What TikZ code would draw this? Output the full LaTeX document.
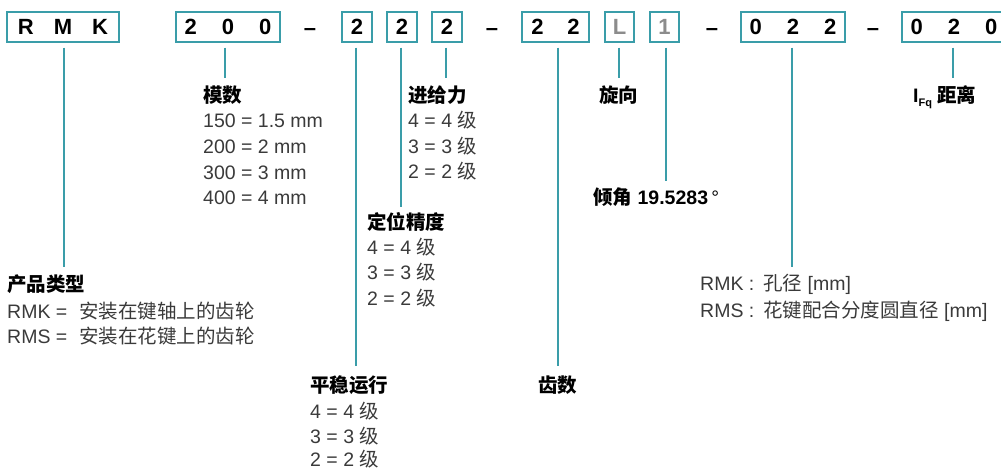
\documentclass[tikz,border=0pt]{standalone}
\usepackage{fontspec}
\setmainfont{Liberation Sans}
\newfontfamily\cjkf{Noto Sans CJK SC}
\newcommand\zh[1]{{\cjkf #1}}
\definecolor{teal1}{HTML}{3A9DA9}
\definecolor{bodygray}{HTML}{3A3A3A}
\definecolor{lgray}{HTML}{8C8C8C}
\begin{document}
\begin{tikzpicture}[x=1pt,y=-1pt,
 cbox/.style={draw=teal1,line width=1.3pt,minimum height=30pt,inner sep=0pt,font=\fontsize{22}{22}\selectfont\bfseries,text=black},
 conn/.style={draw=teal1,line width=1.6pt},
 ttl/.style={anchor=base west,inner sep=0pt,font=\fontsize{19.5}{19.5}\selectfont\bfseries,text=black},
 txt/.style={anchor=base west,inner sep=0pt,font=\fontsize{19.5}{19.5}\selectfont,text=bodygray},
 dsh/.style={anchor=base,inner sep=0pt,font=\fontsize{22}{22}\selectfont\bfseries,text=black}]
\useasboundingbox (0,0) rectangle (1001,471);
\clip (0,0) rectangle (1001,471);

% code boxes
\node[cbox,minimum width=112pt] (b1) at (63,27) {R\hspace{20pt}M\hspace{20pt}K};
\node[cbox,minimum width=104pt] (b2) at (228,27) {2\hspace{25pt}0\hspace{25pt}0};
\node[dsh] (d1) at (310,35) {–};
\node[cbox,minimum width=30pt] (b3) at (357,27) {2};
\node[cbox,minimum width=30pt] (b4) at (402,27) {2};
\node[cbox,minimum width=30pt] (b5) at (447,27) {2};
\node[dsh] (d2) at (492,35) {–};
\node[cbox,minimum width=67pt] (b6) at (555.5,27) {2\hspace{24pt}2};
\node[cbox,minimum width=29pt,text=lgray] (b7) at (619.5,27) {L};
\node[cbox,minimum width=29pt,text=lgray] (b8) at (664.5,27) {1};
\node[dsh] (d3) at (712,35) {–};
\node[cbox,minimum width=104pt] (b9) at (793,27) {0\hspace{25pt}2\hspace{25pt}2};
\node[dsh] (d4) at (873,35) {–};
\node[cbox,minimum width=104pt] (b10) at (954,27) {0\hspace{25pt}2\hspace{25pt}0};

% line end points
\coordinate (e1) at (64,267);
\coordinate (e2) at (225,78);
\coordinate (e3) at (356,366);
\coordinate (e4) at (401,207);
\coordinate (e5) at (446,78);
\coordinate (e6) at (558,366);
\coordinate (e7) at (619,78);
\coordinate (e8) at (666,181);
\coordinate (e9) at (792,267);
\coordinate (e10) at (953,78);

\foreach \i in {1,...,10}{
  \draw[conn] ([yshift=-5pt]b\i.south -| e\i) -- (e\i);
}

% 产品类型
\node[ttl] (t1) at (7,291) {\zh{产品类型}};
\node[txt] (t1a) at (7,318) {\makebox[72pt][l]{RMK =}\zh{安装在键轴上的齿轮}};
\node[txt] (t1b) at (7,343) {\makebox[72pt][l]{RMS =}\zh{安装在花键上的齿轮}};

% 模数
\node[ttl] (t2) at (203,102) {\zh{模数}};
\node[txt] (t2a) at (203,127) {150 = 1.5 mm};
\node[txt] (t2b) at (203,153) {200 = 2 mm};
\node[txt] (t2c) at (203,179) {300 = 3 mm};
\node[txt] (t2d) at (203,204) {400 = 4 mm};

% 平稳运行
\node[ttl] (t3) at (310,392) {\zh{平稳运行}};
\node[txt] (t3a) at (310,418) {4 = 4 \zh{级}};
\node[txt] (t3b) at (310,443) {3 = 3 \zh{级}};
\node[txt] (t3c) at (310,466) {2 = 2 \zh{级}};

% 定位精度
\node[ttl] (t4) at (367,229) {\zh{定位精度}};
\node[txt] (t4a) at (367,254) {4 = 4 \zh{级}};
\node[txt] (t4b) at (367,279) {3 = 3 \zh{级}};
\node[txt] (t4c) at (367,305) {2 = 2 \zh{级}};

% 进给力
\node[ttl] (t5) at (408,102) {\zh{进给力}};
\node[txt] (t5a) at (408,127) {4 = 4 \zh{级}};
\node[txt] (t5b) at (408,153) {3 = 3 \zh{级}};
\node[txt] (t5c) at (408,178) {2 = 2 \zh{级}};

% 齿数
\node[ttl] (t6) at (538,392) {\zh{齿数}};

% 旋向
\node[ttl] (t7) at (599,102) {\zh{旋向}};

% 倾角
\node[ttl] (t8) at (593,204) {\zh{倾角} 19.5283\,{\mdseries °}};

% 孔径
\node[txt] (t9a) at (700,290) {\makebox[63pt][l]{RMK :}\zh{孔径} [mm]};
\node[txt] (t9b) at (700,317) {\makebox[63pt][l]{RMS :}\zh{花键配合分度圆直径} [mm]};

% I_Fq 距离
\node[ttl] (t10) at (913,102) {I\raisebox{-4pt}{\fontsize{11}{11}\selectfont Fq} \zh{距离}};
\end{tikzpicture}
\end{document}
